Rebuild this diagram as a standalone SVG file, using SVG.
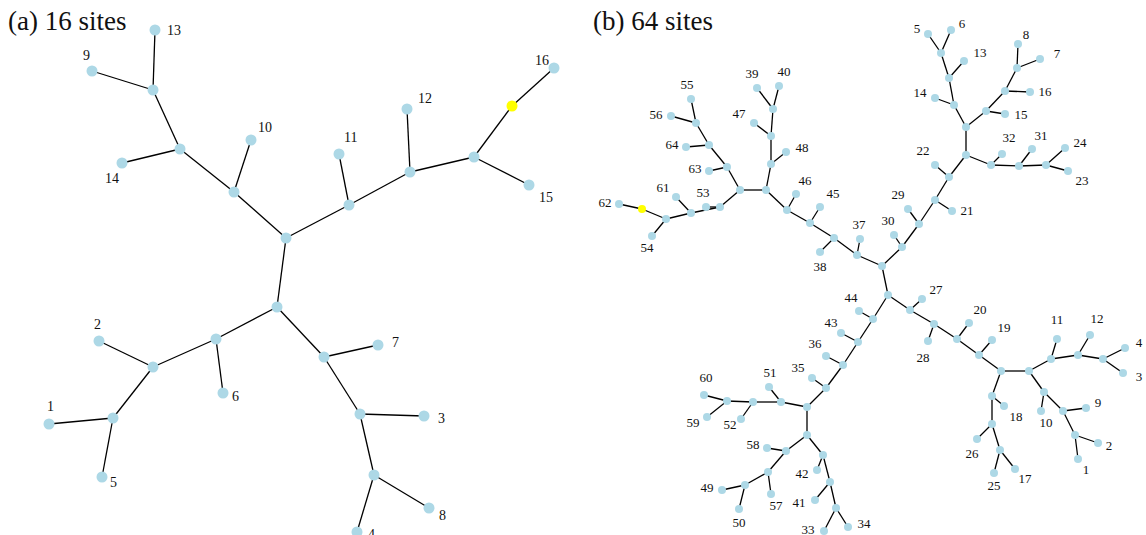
<svg xmlns="http://www.w3.org/2000/svg" width="1146" height="535" viewBox="0 0 1146 535">
<style>
.e line{stroke:#000;stroke-width:1.3}
.n{fill:#ADD8E6}
.y{fill:#FFFF00}
text{font-family:"Liberation Serif","Times New Roman",serif;fill:#111}
.la{font-size:14px}
.lb{font-size:13px;text-anchor:middle}
.t{font-size:27px}
</style>
<rect width="1146" height="535" fill="#fff"/>
<text class="t" x="8" y="30">(a) 16 sites</text>
<text class="t" x="593" y="30">(b) 64 sites</text>

<g id="edges-a" class="e">
<line x1="155" y1="30" x2="153" y2="90"/>
<line x1="92" y1="71" x2="153" y2="90"/>
<line x1="153" y1="90" x2="180" y2="149"/>
<line x1="122" y1="163" x2="180" y2="149"/>
<line x1="180" y1="149" x2="234" y2="192"/>
<line x1="251" y1="140" x2="234" y2="192"/>
<line x1="234" y1="192" x2="286" y2="238"/>
<line x1="286" y1="238" x2="349" y2="205"/>
<line x1="349" y1="205" x2="339" y2="154"/>
<line x1="349" y1="205" x2="410" y2="172"/>
<line x1="410" y1="172" x2="407" y2="109"/>
<line x1="410" y1="172" x2="474" y2="157"/>
<line x1="474" y1="157" x2="529" y2="185"/>
<line x1="474" y1="157" x2="512" y2="106"/>
<line x1="512" y1="106" x2="554" y2="68"/>
<line x1="286" y1="238" x2="277" y2="307"/>
<line x1="277" y1="307" x2="216" y2="339"/>
<line x1="216" y1="339" x2="223" y2="393"/>
<line x1="216" y1="339" x2="153" y2="367"/>
<line x1="153" y1="367" x2="99" y2="341"/>
<line x1="153" y1="367" x2="113" y2="418"/>
<line x1="113" y1="418" x2="49" y2="424"/>
<line x1="113" y1="418" x2="102" y2="477"/>
<line x1="277" y1="307" x2="324" y2="357"/>
<line x1="324" y1="357" x2="378" y2="345"/>
<line x1="324" y1="357" x2="360" y2="414"/>
<line x1="360" y1="414" x2="424" y2="416"/>
<line x1="360" y1="414" x2="374" y2="475"/>
<line x1="374" y1="475" x2="429" y2="508"/>
<line x1="374" y1="475" x2="357" y2="532"/>
</g>

<g id="nodes-a">
<g id="a13"><circle class="n" cx="155" cy="30" r="5.5"/><text class="la" x="167" y="35">13</text></g>
<g id="a9"><circle class="n" cx="92" cy="71" r="5.5"/><text class="la" x="83" y="60">9</text></g>
<g id="a14"><circle class="n" cx="122" cy="163" r="5.5"/><text class="la" x="105" y="183">14</text></g>
<g id="a10"><circle class="n" cx="251" cy="140" r="5.5"/><text class="la" x="258" y="132">10</text></g>
<g id="a11"><circle class="n" cx="339" cy="154" r="5.5"/><text class="la" x="344" y="142">11</text></g>
<g id="a12"><circle class="n" cx="407" cy="109" r="5.5"/><text class="la" x="418" y="103">12</text></g>
<g id="a15"><circle class="n" cx="529" cy="185" r="5.5"/><text class="la" x="539" y="202">15</text></g>
<g id="a16"><circle class="n" cx="554" cy="68" r="5.5"/><text class="la" x="535" y="65">16</text></g>
<g id="a6"><circle class="n" cx="223" cy="393" r="5.5"/><text class="la" x="232" y="401">6</text></g>
<g id="a2"><circle class="n" cx="99" cy="341" r="5.5"/><text class="la" x="94" y="329">2</text></g>
<g id="a1"><circle class="n" cx="49" cy="424" r="5.5"/><text class="la" x="47" y="411">1</text></g>
<g id="a5"><circle class="n" cx="102" cy="477" r="5.5"/><text class="la" x="110" y="487">5</text></g>
<g id="a7"><circle class="n" cx="378" cy="345" r="5.5"/><text class="la" x="392" y="347">7</text></g>
<g id="a3"><circle class="n" cx="424" cy="416" r="5.5"/><text class="la" x="438" y="423">3</text></g>
<g id="a8"><circle class="n" cx="429" cy="508" r="5.5"/><text class="la" x="439" y="520">8</text></g>
<g id="a4"><circle class="n" cx="357" cy="532" r="5.5"/><text class="la" x="368" y="539">4</text></g>
<g id="a-junctions">
<circle class="n" cx="153" cy="90" r="5.5"/><circle class="n" cx="180" cy="149" r="5.5"/>
<circle class="n" cx="234" cy="192" r="5.5"/><circle class="n" cx="286" cy="238" r="5.5"/>
<circle class="n" cx="349" cy="205" r="5.5"/><circle class="n" cx="410" cy="172" r="5.5"/>
<circle class="n" cx="474" cy="157" r="5.5"/><circle class="y" cx="512" cy="106" r="5.5"/>
<circle class="n" cx="277" cy="307" r="5.5"/><circle class="n" cx="216" cy="339" r="5.5"/>
<circle class="n" cx="153" cy="367" r="5.5"/><circle class="n" cx="113" cy="418" r="5.5"/>
<circle class="n" cx="324" cy="357" r="5.5"/><circle class="n" cx="360" cy="414" r="5.5"/>
<circle class="n" cx="374" cy="475" r="5.5"/>
</g>
</g>

<g id="edges-b" class="e">
<line x1="740" y1="190" x2="766" y2="190"/>
<line x1="766" y1="190" x2="771" y2="164"/>
<line x1="771" y1="164" x2="786" y2="152"/>
<line x1="771" y1="164" x2="771" y2="136"/>
<line x1="771" y1="136" x2="754" y2="123"/>
<line x1="771" y1="136" x2="773" y2="109"/>
<line x1="773" y1="109" x2="757" y2="88"/>
<line x1="773" y1="109" x2="779" y2="86"/>
<line x1="740" y1="190" x2="727" y2="167"/>
<line x1="727" y1="167" x2="709" y2="171"/>
<line x1="727" y1="167" x2="709" y2="145"/>
<line x1="709" y1="145" x2="686" y2="147"/>
<line x1="709" y1="145" x2="696" y2="123"/>
<line x1="696" y1="123" x2="671" y2="116"/>
<line x1="696" y1="123" x2="691" y2="99"/>
<line x1="740" y1="190" x2="720" y2="207"/>
<line x1="720" y1="207" x2="706" y2="207"/>
<line x1="720" y1="207" x2="691" y2="213"/>
<line x1="691" y1="213" x2="676" y2="197"/>
<line x1="691" y1="213" x2="666" y2="219"/>
<line x1="666" y1="219" x2="642" y2="209"/>
<line x1="642" y1="209" x2="619" y2="204"/>
<line x1="666" y1="219" x2="652" y2="236"/>
<line x1="766" y1="190" x2="787" y2="210"/>
<line x1="787" y1="210" x2="796" y2="194"/>
<line x1="787" y1="210" x2="810" y2="223"/>
<line x1="810" y1="223" x2="820" y2="207"/>
<line x1="810" y1="223" x2="834" y2="238"/>
<line x1="834" y1="238" x2="820" y2="252"/>
<line x1="834" y1="238" x2="857" y2="255"/>
<line x1="857" y1="255" x2="860" y2="239"/>
<line x1="857" y1="255" x2="882" y2="266"/>
<line x1="882" y1="266" x2="902" y2="247"/>
<line x1="902" y1="247" x2="894" y2="235"/>
<line x1="902" y1="247" x2="919" y2="224"/>
<line x1="919" y1="224" x2="908" y2="209"/>
<line x1="919" y1="224" x2="935" y2="200"/>
<line x1="935" y1="200" x2="952" y2="211"/>
<line x1="935" y1="200" x2="949" y2="177"/>
<line x1="949" y1="177" x2="935" y2="165"/>
<line x1="949" y1="177" x2="966" y2="155"/>
<line x1="966" y1="155" x2="966" y2="127"/>
<line x1="966" y1="127" x2="954" y2="105"/>
<line x1="954" y1="105" x2="935" y2="98"/>
<line x1="954" y1="105" x2="949" y2="78"/>
<line x1="949" y1="78" x2="964" y2="61"/>
<line x1="949" y1="78" x2="941" y2="53"/>
<line x1="941" y1="53" x2="928" y2="34"/>
<line x1="941" y1="53" x2="951" y2="30"/>
<line x1="966" y1="127" x2="986" y2="111"/>
<line x1="986" y1="111" x2="1005" y2="114"/>
<line x1="986" y1="111" x2="1005" y2="91"/>
<line x1="1005" y1="91" x2="1030" y2="92"/>
<line x1="1005" y1="91" x2="1017" y2="68"/>
<line x1="1017" y1="68" x2="1018" y2="44"/>
<line x1="1017" y1="68" x2="1040" y2="59"/>
<line x1="966" y1="155" x2="991" y2="165"/>
<line x1="991" y1="165" x2="1002" y2="154"/>
<line x1="991" y1="165" x2="1019" y2="166"/>
<line x1="1019" y1="166" x2="1032" y2="149"/>
<line x1="1019" y1="166" x2="1046" y2="165"/>
<line x1="1046" y1="165" x2="1065" y2="148"/>
<line x1="1046" y1="165" x2="1068" y2="171"/>
<line x1="882" y1="266" x2="888" y2="295"/>
<line x1="888" y1="295" x2="910" y2="310"/>
<line x1="888" y1="295" x2="873" y2="319"/>
<line x1="873" y1="319" x2="859" y2="311"/>
<line x1="873" y1="319" x2="858" y2="342"/>
<line x1="858" y1="342" x2="841" y2="333"/>
<line x1="858" y1="342" x2="843" y2="365"/>
<line x1="843" y1="365" x2="826" y2="356"/>
<line x1="843" y1="365" x2="826" y2="388"/>
<line x1="826" y1="388" x2="812" y2="378"/>
<line x1="826" y1="388" x2="807" y2="407"/>
<line x1="807" y1="407" x2="781" y2="402"/>
<line x1="781" y1="402" x2="769" y2="387"/>
<line x1="781" y1="402" x2="753" y2="402"/>
<line x1="753" y1="402" x2="741" y2="419"/>
<line x1="753" y1="402" x2="727" y2="401"/>
<line x1="727" y1="401" x2="704" y2="395"/>
<line x1="727" y1="401" x2="707" y2="417"/>
<line x1="807" y1="407" x2="807" y2="435"/>
<line x1="807" y1="435" x2="786" y2="451"/>
<line x1="786" y1="451" x2="767" y2="448"/>
<line x1="786" y1="451" x2="768" y2="472"/>
<line x1="768" y1="472" x2="771" y2="494"/>
<line x1="768" y1="472" x2="745" y2="485"/>
<line x1="745" y1="485" x2="722" y2="490"/>
<line x1="745" y1="485" x2="739" y2="509"/>
<line x1="807" y1="435" x2="823" y2="455"/>
<line x1="823" y1="455" x2="817" y2="470"/>
<line x1="823" y1="455" x2="830" y2="482"/>
<line x1="830" y1="482" x2="815" y2="500"/>
<line x1="830" y1="482" x2="836" y2="508"/>
<line x1="836" y1="508" x2="824" y2="531"/>
<line x1="836" y1="508" x2="848" y2="527"/>
<line x1="910" y1="310" x2="922" y2="299"/>
<line x1="910" y1="310" x2="934" y2="324"/>
<line x1="934" y1="324" x2="928" y2="341"/>
<line x1="934" y1="324" x2="957" y2="339"/>
<line x1="957" y1="339" x2="969" y2="323"/>
<line x1="957" y1="339" x2="979" y2="355"/>
<line x1="979" y1="355" x2="992" y2="340"/>
<line x1="979" y1="355" x2="1001" y2="371"/>
<line x1="1001" y1="371" x2="1029" y2="371"/>
<line x1="1029" y1="371" x2="1051" y2="359"/>
<line x1="1051" y1="359" x2="1057" y2="339"/>
<line x1="1051" y1="359" x2="1078" y2="355"/>
<line x1="1078" y1="355" x2="1090" y2="335"/>
<line x1="1078" y1="355" x2="1103" y2="359"/>
<line x1="1103" y1="359" x2="1125" y2="348"/>
<line x1="1103" y1="359" x2="1123" y2="373"/>
<line x1="1029" y1="371" x2="1044" y2="392"/>
<line x1="1044" y1="392" x2="1041" y2="411"/>
<line x1="1044" y1="392" x2="1063" y2="411"/>
<line x1="1063" y1="411" x2="1086" y2="408"/>
<line x1="1063" y1="411" x2="1075" y2="435"/>
<line x1="1075" y1="435" x2="1098" y2="443"/>
<line x1="1075" y1="435" x2="1078" y2="459"/>
<line x1="1001" y1="371" x2="992" y2="396"/>
<line x1="992" y1="396" x2="1004" y2="406"/>
<line x1="992" y1="396" x2="992" y2="424"/>
<line x1="992" y1="424" x2="977" y2="439"/>
<line x1="992" y1="424" x2="1000" y2="450"/>
<line x1="1000" y1="450" x2="994" y2="473"/>
<line x1="1000" y1="450" x2="1015" y2="469"/>
</g>

<g id="nodes-b">
<g id="b1"><circle class="n" cx="1078" cy="459" r="4"/><text class="lb" x="1086" y="474">1</text></g>
<g id="b2"><circle class="n" cx="1098" cy="443" r="4"/><text class="lb" x="1109" y="450">2</text></g>
<g id="b3"><circle class="n" cx="1123" cy="373" r="4"/><text class="lb" x="1139" y="381">3</text></g>
<g id="b4"><circle class="n" cx="1125" cy="348" r="4"/><text class="lb" x="1139" y="347">4</text></g>
<g id="b5"><circle class="n" cx="928" cy="34" r="4"/><text class="lb" x="917" y="33">5</text></g>
<g id="b6"><circle class="n" cx="951" cy="30" r="4"/><text class="lb" x="962" y="28">6</text></g>
<g id="b7"><circle class="n" cx="1040" cy="59" r="4"/><text class="lb" x="1057" y="58">7</text></g>
<g id="b8"><circle class="n" cx="1018" cy="44" r="4"/><text class="lb" x="1026" y="39">8</text></g>
<g id="b9"><circle class="n" cx="1086" cy="408" r="4"/><text class="lb" x="1098" y="407">9</text></g>
<g id="b10"><circle class="n" cx="1041" cy="411" r="4"/><text class="lb" x="1046" y="427">10</text></g>
<g id="b11"><circle class="n" cx="1057" cy="339" r="4"/><text class="lb" x="1057" y="324">11</text></g>
<g id="b12"><circle class="n" cx="1090" cy="335" r="4"/><text class="lb" x="1097" y="323">12</text></g>
<g id="b13"><circle class="n" cx="964" cy="61" r="4"/><text class="lb" x="980" y="57">13</text></g>
<g id="b14"><circle class="n" cx="935" cy="98" r="4"/><text class="lb" x="920" y="97">14</text></g>
<g id="b15"><circle class="n" cx="1005" cy="114" r="4"/><text class="lb" x="1021" y="119">15</text></g>
<g id="b16"><circle class="n" cx="1030" cy="92" r="4"/><text class="lb" x="1045" y="96">16</text></g>
<g id="b17"><circle class="n" cx="1015" cy="469" r="4"/><text class="lb" x="1025" y="483">17</text></g>
<g id="b18"><circle class="n" cx="1004" cy="406" r="4"/><text class="lb" x="1016" y="421">18</text></g>
<g id="b19"><circle class="n" cx="992" cy="340" r="4"/><text class="lb" x="1004" y="332">19</text></g>
<g id="b20"><circle class="n" cx="969" cy="323" r="4"/><text class="lb" x="980" y="314">20</text></g>
<g id="b21"><circle class="n" cx="952" cy="211" r="4"/><text class="lb" x="967" y="215">21</text></g>
<g id="b22"><circle class="n" cx="935" cy="165" r="4"/><text class="lb" x="923" y="155">22</text></g>
<g id="b23"><circle class="n" cx="1068" cy="171" r="4"/><text class="lb" x="1082" y="185">23</text></g>
<g id="b24"><circle class="n" cx="1065" cy="148" r="4"/><text class="lb" x="1080" y="147">24</text></g>
<g id="b25"><circle class="n" cx="994" cy="473" r="4"/><text class="lb" x="994" y="490">25</text></g>
<g id="b26"><circle class="n" cx="977" cy="439" r="4"/><text class="lb" x="972" y="458">26</text></g>
<g id="b27"><circle class="n" cx="922" cy="299" r="4"/><text class="lb" x="936" y="294">27</text></g>
<g id="b28"><circle class="n" cx="928" cy="341" r="4"/><text class="lb" x="923" y="362">28</text></g>
<g id="b29"><circle class="n" cx="908" cy="209" r="4"/><text class="lb" x="898" y="199">29</text></g>
<g id="b30"><circle class="n" cx="894" cy="235" r="4"/><text class="lb" x="888" y="225">30</text></g>
<g id="b31"><circle class="n" cx="1032" cy="149" r="4"/><text class="lb" x="1041" y="140">31</text></g>
<g id="b32"><circle class="n" cx="1002" cy="154" r="4"/><text class="lb" x="1009" y="142">32</text></g>
<g id="b33"><circle class="n" cx="824" cy="531" r="4"/><text class="lb" x="808" y="534">33</text></g>
<g id="b34"><circle class="n" cx="848" cy="527" r="4"/><text class="lb" x="864" y="528">34</text></g>
<g id="b35"><circle class="n" cx="812" cy="378" r="4"/><text class="lb" x="798" y="372">35</text></g>
<g id="b36"><circle class="n" cx="826" cy="356" r="4"/><text class="lb" x="815" y="348">36</text></g>
<g id="b37"><circle class="n" cx="860" cy="239" r="4"/><text class="lb" x="859" y="229">37</text></g>
<g id="b38"><circle class="n" cx="820" cy="252" r="4"/><text class="lb" x="820" y="271">38</text></g>
<g id="b39"><circle class="n" cx="757" cy="88" r="4"/><text class="lb" x="752" y="78">39</text></g>
<g id="b40"><circle class="n" cx="779" cy="86" r="4"/><text class="lb" x="784" y="76">40</text></g>
<g id="b41"><circle class="n" cx="815" cy="500" r="4"/><text class="lb" x="799" y="507">41</text></g>
<g id="b42"><circle class="n" cx="817" cy="470" r="4"/><text class="lb" x="802" y="478">42</text></g>
<g id="b43"><circle class="n" cx="841" cy="333" r="4"/><text class="lb" x="831" y="327">43</text></g>
<g id="b44"><circle class="n" cx="859" cy="311" r="4"/><text class="lb" x="851" y="302">44</text></g>
<g id="b45"><circle class="n" cx="820" cy="207" r="4"/><text class="lb" x="833" y="198">45</text></g>
<g id="b46"><circle class="n" cx="796" cy="194" r="4"/><text class="lb" x="805" y="185">46</text></g>
<g id="b47"><circle class="n" cx="754" cy="123" r="4"/><text class="lb" x="739" y="118">47</text></g>
<g id="b48"><circle class="n" cx="786" cy="152" r="4"/><text class="lb" x="802" y="152">48</text></g>
<g id="b49"><circle class="n" cx="722" cy="490" r="4"/><text class="lb" x="707" y="492">49</text></g>
<g id="b50"><circle class="n" cx="739" cy="509" r="4"/><text class="lb" x="739" y="527">50</text></g>
<g id="b51"><circle class="n" cx="769" cy="387" r="4"/><text class="lb" x="770" y="377">51</text></g>
<g id="b52"><circle class="n" cx="741" cy="419" r="4"/><text class="lb" x="730" y="429">52</text></g>
<g id="b53"><circle class="n" cx="706" cy="207" r="4"/><text class="lb" x="703" y="197">53</text></g>
<g id="b54"><circle class="n" cx="652" cy="236" r="4"/><text class="lb" x="647" y="252">54</text></g>
<g id="b55"><circle class="n" cx="691" cy="99" r="4"/><text class="lb" x="687" y="89">55</text></g>
<g id="b56"><circle class="n" cx="671" cy="116" r="4"/><text class="lb" x="656" y="119">56</text></g>
<g id="b57"><circle class="n" cx="771" cy="494" r="4"/><text class="lb" x="776" y="510">57</text></g>
<g id="b58"><circle class="n" cx="767" cy="448" r="4"/><text class="lb" x="753" y="449">58</text></g>
<g id="b59"><circle class="n" cx="707" cy="417" r="4"/><text class="lb" x="693" y="427">59</text></g>
<g id="b60"><circle class="n" cx="704" cy="395" r="4"/><text class="lb" x="706" y="382">60</text></g>
<g id="b61"><circle class="n" cx="676" cy="197" r="4"/><text class="lb" x="663" y="192">61</text></g>
<g id="b62"><circle class="n" cx="619" cy="204" r="4"/><text class="lb" x="605" y="207">62</text></g>
<g id="b63"><circle class="n" cx="709" cy="171" r="4"/><text class="lb" x="695" y="173">63</text></g>
<g id="b64"><circle class="n" cx="686" cy="147" r="4"/><text class="lb" x="672" y="149">64</text></g>
<g id="b-junctions">
<circle class="n" cx="740" cy="190" r="4"/><circle class="n" cx="766" cy="190" r="4"/>
<circle class="n" cx="771" cy="164" r="4"/><circle class="n" cx="771" cy="136" r="4"/>
<circle class="n" cx="773" cy="109" r="4"/><circle class="n" cx="727" cy="167" r="4"/>
<circle class="n" cx="709" cy="145" r="4"/><circle class="n" cx="696" cy="123" r="4"/>
<circle class="n" cx="720" cy="207" r="4"/><circle class="n" cx="691" cy="213" r="4"/>
<circle class="n" cx="666" cy="219" r="4"/><circle class="y" cx="642" cy="209" r="4"/>
<circle class="n" cx="787" cy="210" r="4"/><circle class="n" cx="810" cy="223" r="4"/>
<circle class="n" cx="834" cy="238" r="4"/><circle class="n" cx="857" cy="255" r="4"/>
<circle class="n" cx="882" cy="266" r="4"/><circle class="n" cx="902" cy="247" r="4"/>
<circle class="n" cx="919" cy="224" r="4"/><circle class="n" cx="935" cy="200" r="4"/>
<circle class="n" cx="949" cy="177" r="4"/><circle class="n" cx="966" cy="155" r="4"/>
<circle class="n" cx="966" cy="127" r="4"/><circle class="n" cx="954" cy="105" r="4"/>
<circle class="n" cx="949" cy="78" r="4"/><circle class="n" cx="941" cy="53" r="4"/>
<circle class="n" cx="986" cy="111" r="4"/><circle class="n" cx="1005" cy="91" r="4"/>
<circle class="n" cx="1017" cy="68" r="4"/><circle class="n" cx="991" cy="165" r="4"/>
<circle class="n" cx="1019" cy="166" r="4"/><circle class="n" cx="1046" cy="165" r="4"/>
<circle class="n" cx="888" cy="295" r="4"/><circle class="n" cx="910" cy="310" r="4"/>
<circle class="n" cx="873" cy="319" r="4"/><circle class="n" cx="858" cy="342" r="4"/>
<circle class="n" cx="843" cy="365" r="4"/><circle class="n" cx="826" cy="388" r="4"/>
<circle class="n" cx="807" cy="407" r="4"/><circle class="n" cx="781" cy="402" r="4"/>
<circle class="n" cx="753" cy="402" r="4"/><circle class="n" cx="727" cy="401" r="4"/>
<circle class="n" cx="807" cy="435" r="4"/><circle class="n" cx="786" cy="451" r="4"/>
<circle class="n" cx="768" cy="472" r="4"/><circle class="n" cx="745" cy="485" r="4"/>
<circle class="n" cx="823" cy="455" r="4"/><circle class="n" cx="830" cy="482" r="4"/>
<circle class="n" cx="836" cy="508" r="4"/><circle class="n" cx="934" cy="324" r="4"/>
<circle class="n" cx="957" cy="339" r="4"/><circle class="n" cx="979" cy="355" r="4"/>
<circle class="n" cx="1001" cy="371" r="4"/><circle class="n" cx="1029" cy="371" r="4"/>
<circle class="n" cx="1051" cy="359" r="4"/><circle class="n" cx="1078" cy="355" r="4"/>
<circle class="n" cx="1103" cy="359" r="4"/><circle class="n" cx="1044" cy="392" r="4"/>
<circle class="n" cx="1063" cy="411" r="4"/><circle class="n" cx="1075" cy="435" r="4"/>
<circle class="n" cx="992" cy="396" r="4"/><circle class="n" cx="992" cy="424" r="4"/>
<circle class="n" cx="1000" cy="450" r="4"/>
</g>
</g>
</svg>
